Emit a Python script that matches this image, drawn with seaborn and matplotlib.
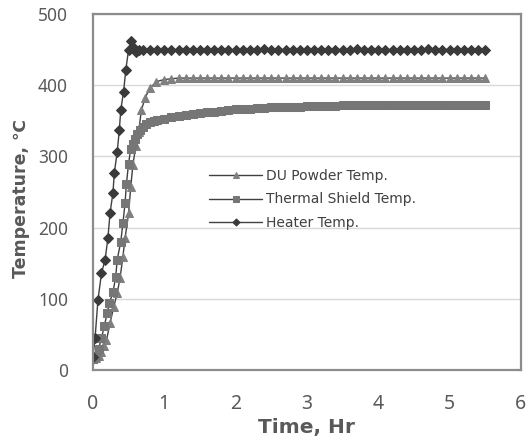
import numpy as np
import pandas as pd
import matplotlib
matplotlib.use("Agg")
import matplotlib.pyplot as plt
import seaborn as sns
from matplotlib.ticker import MultipleLocator

# ---- data ----
heater_time = [0.00, 0.03, 0.07, 0.12, 0.17, 0.21, 0.24, 0.28, 0.30, 0.34, 0.37, 0.39,
               0.43, 0.46, 0.50, 0.54, 0.57, 0.60, 0.65, 0.70, 0.80, 0.90, 1.00, 1.10,
               1.20, 1.30, 1.40, 1.50, 1.60, 1.70, 1.80, 1.90, 2.00, 2.10, 2.20, 2.30,
               2.40, 2.50, 2.60, 2.70, 2.80, 2.90, 3.00, 3.10, 3.20, 3.30, 3.40, 3.50,
               3.60, 3.70, 3.80, 3.90, 4.00, 4.10, 4.20, 4.30, 4.40, 4.50, 4.60, 4.70,
               4.80, 4.90, 5.00, 5.10, 5.20, 5.30, 5.40, 5.50]
heater_temp = [18, 45, 98, 136, 155, 185, 221, 248, 277, 306, 337, 365,
               391, 421, 450, 462, 452, 446, 450, 449, 450, 450, 449, 450,
               450, 450, 449, 450, 450, 450, 450, 449, 450, 450, 450, 450,
               451, 450, 450, 450, 450, 450, 449, 450, 450, 450, 450, 450,
               450, 451, 450, 450, 450, 450, 450, 449, 450, 450, 450, 451,
               450, 450, 450, 450, 450, 450, 450, 450]

shield_time = [0.00, 0.04, 0.08, 0.12, 0.16, 0.20, 0.23, 0.28, 0.32, 0.34, 0.39, 0.42,
               0.45, 0.47, 0.50, 0.53, 0.56, 0.59, 0.62, 0.66, 0.70, 0.75, 0.80, 0.85,
               0.90, 1.00, 1.10, 1.20, 1.30, 1.40, 1.50, 1.60, 1.70, 1.80, 1.90, 2.00,
               2.10, 2.20, 2.30, 2.40, 2.50, 2.60, 2.70, 2.80, 2.90, 3.00, 3.10, 3.20,
               3.30, 3.40, 3.50, 3.60, 3.70, 3.80, 3.90, 4.00, 4.10, 4.20, 4.30, 4.40,
               4.50, 4.60, 4.70, 4.80, 4.90, 5.00, 5.10, 5.20, 5.30, 5.40, 5.50]
shield_temp = [16, 20, 30, 45, 62, 80, 94, 109, 131, 155, 180, 206,
               234, 262, 290, 311, 318, 325, 331, 337, 341, 345, 348, 350,
               351, 353, 355, 357, 358, 360, 361, 362, 363, 364, 365, 366,
               367, 367, 368, 368, 369, 369, 370, 370, 370, 371, 371, 371,
               371, 371, 372, 372, 372, 372, 372, 372, 372, 372, 372, 372,
               372, 372, 372, 372, 372, 372, 372, 372, 372, 372, 372]

du_time = [0.00, 0.04, 0.08, 0.12, 0.16, 0.19, 0.24, 0.29, 0.34, 0.38, 0.42, 0.45,
           0.50, 0.53, 0.56, 0.60, 0.64, 0.68, 0.73, 0.80, 0.89, 1.00, 1.10, 1.20,
           1.30, 1.40, 1.50, 1.60, 1.70, 1.80, 1.90, 2.00, 2.10, 2.20, 2.30, 2.40,
           2.50, 2.60, 2.70, 2.80, 2.90, 3.00, 3.10, 3.20, 3.30, 3.40, 3.50, 3.60,
           3.70, 3.80, 3.90, 4.00, 4.10, 4.20, 4.30, 4.40, 4.50, 4.60, 4.70, 4.80,
           4.90, 5.00, 5.10, 5.20, 5.30, 5.40, 5.50]
du_temp = [15, 17, 20, 26, 34, 42, 66, 88, 108, 129, 159, 185,
           220, 257, 288, 314, 335, 365, 382, 396, 405, 408, 409, 410,
           410, 410, 410, 410, 410, 410, 410, 410, 410, 410, 410, 410,
           410, 410, 410, 410, 410, 410, 410, 410, 410, 410, 410, 410,
           410, 410, 410, 410, 410, 410, 410, 410, 410, 410, 410, 410,
           410, 410, 410, 410, 410, 410, 410]

series_labels = ["DU Powder Temp.", "Thermal Shield Temp.", "Heater Temp."]

sns.set_theme(style="white")
plt.rcParams['font.family'] = ['DejaVu Sans']

fig = plt.figure(figsize=(5.31, 4.37), dpi=100)
ax = fig.add_axes([0.175, 0.153, 0.806, 0.815])

line_col = "#404040"
sns.lineplot(x=du_time, y=du_temp, ax=ax, color=line_col, linewidth=1.0,
             marker="^", markersize=5.5, markerfacecolor="#808080",
             markeredgecolor="#808080", label=series_labels[0])
sns.lineplot(x=shield_time, y=shield_temp, ax=ax, color=line_col, linewidth=1.0,
             marker="s", markersize=5.8, markerfacecolor="#767676",
             markeredgecolor="#767676", label=series_labels[1])
sns.lineplot(x=heater_time, y=heater_temp, ax=ax, color=line_col, linewidth=1.0,
             marker="D", markersize=4.8, markerfacecolor="#3a3a3a",
             markeredgecolor="#3a3a3a", label=series_labels[2])

ax.set_xlim(0, 6)
ax.set_ylim(0, 500)
ax.xaxis.set_major_locator(MultipleLocator(1))
ax.xaxis.set_minor_locator(MultipleLocator(0.5))
ax.yaxis.set_major_locator(MultipleLocator(100))
ax.yaxis.set_minor_locator(MultipleLocator(50))
ax.grid(axis="y", which="major", color="#d9d9d9", linewidth=1.0)
ax.set_axisbelow(True)

for s in ax.spines.values():
    s.set_color("#8c8c8c")
    s.set_linewidth(1.6)

ax.tick_params(axis="both", which="both", direction="in", color="#a6a6a6",
               labelcolor="#595959")
ax.tick_params(axis="both", which="major", length=4, width=1)
ax.tick_params(axis="both", which="minor", length=4, width=1)
ax.tick_params(axis="x", which="major", pad=17)
ax.tick_params(axis="y", which="major", pad=18)
for lab in ax.get_xticklabels():
    lab.set_family(["Noto Sans", "DejaVu Sans"])
    lab.set_fontsize(14)
for lab in ax.get_yticklabels():
    lab.set_family(["Noto Sans", "DejaVu Sans"])
    lab.set_fontsize(12.5)

ax.set_xlabel("Time, Hr", fontsize=14.5, color="#595959", fontweight="bold",
              labelpad=3)
ax.set_ylabel("Temperature, \u2103", fontsize=12.5, color="#595959",
              fontweight="bold")
ax.yaxis.set_label_coords(-0.148, 0.482)

leg = ax.legend(loc="upper left", bbox_to_anchor=(0.243, 0.6), frameon=False,
                fontsize=10, handlelength=3.8, labelspacing=0.68,
                handletextpad=0.3, markerscale=0.75)
for t in leg.get_texts():
    t.set_color("#404040")

fig.savefig("out.png", dpi=100)
